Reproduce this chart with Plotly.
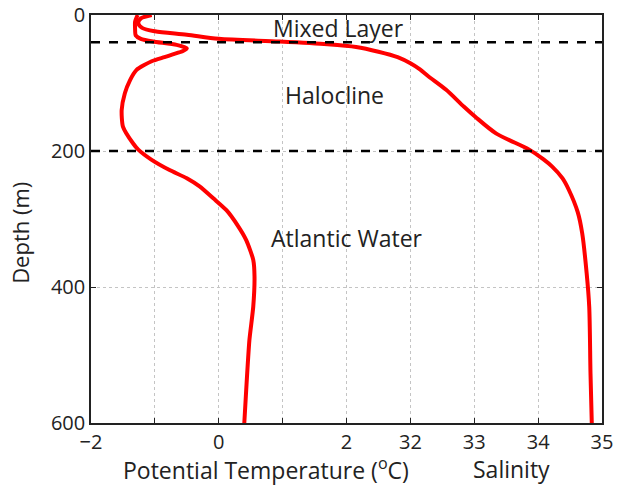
import plotly.graph_objects as go

# Temperature profile (degC) vs depth (m)
temp_depth = [0, 10, 20, 30, 35, 39, 44, 49, 53, 58, 62, 68, 81, 96, 115, 140, 164,
              189, 198, 213, 228, 240, 252, 270, 287, 310, 331, 360, 385, 429, 478, 551, 600]
temp_values = [-1.27, -1.31, -1.31, -1.30, -1.22, -1.03, -0.66, -0.50, -0.56, -0.72, -0.85,
               -1.05, -1.29, -1.39, -1.47, -1.52, -1.50, -1.34, -1.26, -1.05, -0.77, -0.50,
               -0.30, -0.08, 0.12, 0.30, 0.43, 0.54, 0.56, 0.54, 0.48, 0.43, 0.40]

# Salinity profile vs depth (m)
sal_depth = [0, 5, 12, 19, 24, 29, 35, 39, 43, 47, 54, 62, 71, 80, 90, 110, 135, 150, 174,
             198, 212, 223, 240, 257, 290, 321, 380, 429, 527, 600]
sal_values = [27.95, 27.78, 27.74, 27.80, 28.0, 28.5, 29.0, 29.95, 30.7, 31.15, 31.5, 31.8,
              32.0, 32.15, 32.28, 32.56, 32.84, 33.02, 33.34, 33.86, 34.08, 34.22, 34.38,
              34.48, 34.62, 34.69, 34.76, 34.80, 34.82, 34.84]

temp_ticks = [-2, 0, 2]
temp_ticktext = ["\u22122", "0", "2"]
temp_minor_ticks = [-1, 1]
sal_ticks = [32, 33, 34, 35]
sal_ticktext = ["32", "33", "34", "35"]
depth_ticks = [0, 200, 400, 600]
layer_bounds = [40, 200]
layer_labels = ["Mixed Layer", "Halocline", "Atlantic Water"]
layer_label_depths = [19, 118, 328]
layer_label_temp = [1.875, 1.81, 2.0]

FONT = "Open Sans"
TXT = "#222222"
RED = "#ff0000"
GRID = "#c4c4c4"

fig = go.Figure()
fig.add_trace(go.Scatter(x=temp_values, y=temp_depth, mode="lines",
                         line=dict(color=RED, width=4, shape="spline", smoothing=0.6),
                         xaxis="x", yaxis="y", showlegend=False))
fig.add_trace(go.Scatter(x=sal_values, y=sal_depth, mode="lines",
                         line=dict(color=RED, width=4, shape="spline", smoothing=0.8),
                         xaxis="x2", yaxis="y", showlegend=False))

for d in layer_bounds:
    fig.add_shape(type="line", xref="paper", x0=0, x1=1, yref="y", y0=d, y1=d,
                  line=dict(color="black", width=2.5, dash="dash"), layer="above")

for lbl, d, t in zip(layer_labels, layer_label_depths, layer_label_temp):
    fig.add_annotation(x=t, y=d, xref="x", yref="y", text=lbl, showarrow=False,
                       xanchor="center", yanchor="middle",
                       font=dict(family=FONT, size=23, color=TXT))

fig.add_annotation(x=0.3425, y=-0.112, xref="paper", yref="paper",
                   text="Potential Temperature (<sup>o</sup>C)", showarrow=False,
                   xanchor="center", yanchor="middle",
                   font=dict(family=FONT, size=23, color=TXT))
fig.add_annotation(x=0.822, y=-0.112, xref="paper", yref="paper", text="Salinity",
                   showarrow=False, xanchor="center", yanchor="middle",
                   font=dict(family=FONT, size=23, color=TXT))
fig.add_annotation(x=-0.139, y=0.466, xref="paper", yref="paper", text="Depth (m)",
                   textangle=-90, showarrow=False, xanchor="center", yanchor="middle",
                   font=dict(family=FONT, size=22, color=TXT))

axis_common = dict(showline=True, linecolor="#222", linewidth=1.5, mirror="ticks",
                   ticks="inside", ticklen=5, tickcolor="#222", tickwidth=1,
                   showgrid=True, gridcolor=GRID, gridwidth=1, griddash="dot",
                   zeroline=False, automargin=False,
                   tickfont=dict(family=FONT, size=20, color=TXT))

fig.update_layout(
    width=617, height=485,
    margin=dict(l=91, r=15, t=15, b=62),
    paper_bgcolor="white", plot_bgcolor="white",
    xaxis=dict(range=[-2, 6], tickmode="array", tickvals=temp_ticks, ticktext=temp_ticktext,
               minor=dict(tickvals=temp_minor_ticks, ticks="inside", ticklen=5,
                          tickcolor="#222", tickwidth=1, showgrid=True, gridcolor=GRID,
                          gridwidth=1, griddash="dot"),
               **axis_common),
    xaxis2=dict(range=[27, 35], overlaying="x", side="bottom", tickmode="array",
                tickvals=sal_ticks, ticktext=sal_ticktext, **axis_common),
    yaxis=dict(range=[600, 0], tickmode="array", tickvals=depth_ticks, **axis_common),
)

fig.write_html("out.html")
